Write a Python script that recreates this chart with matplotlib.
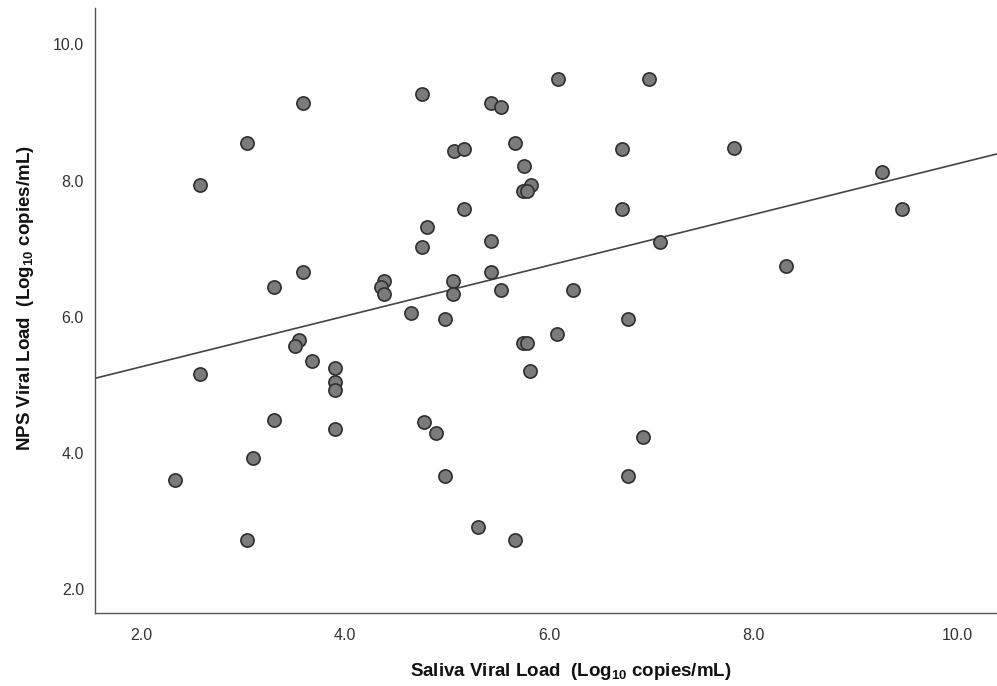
import matplotlib
matplotlib.use("Agg")
import matplotlib.pyplot as plt
import numpy as np

# valores (log10 copias/mL)
saliva = [
    2.33, 2.58, 2.58, 3.04, 3.04, 3.10, 3.30, 3.30, 3.59, 3.59,
    3.55, 3.51, 3.68, 3.90, 3.90, 3.90, 3.90, 4.38, 4.35, 4.38,
    4.65, 4.75, 4.75, 4.80, 4.77, 4.89, 4.98, 4.98, 5.06, 5.06,
    5.07, 5.17, 5.17, 5.30, 5.43, 5.53, 5.43, 5.43, 5.53, 5.67,
    5.67, 5.75, 5.82, 5.74, 5.78, 5.74, 5.78, 5.81, 6.08, 6.09,
    6.23, 6.71, 6.71, 6.77, 6.77, 6.92, 6.98, 7.09, 7.81, 8.32,
    9.26, 9.46,
]
nps = [
    3.60, 7.94, 5.16, 8.55, 2.72, 3.93, 6.44, 4.48, 9.14, 6.65,
    5.66, 5.57, 5.35, 5.25, 5.04, 4.92, 4.35, 6.52, 6.43, 6.33,
    6.06, 9.27, 7.03, 7.32, 4.46, 4.29, 5.97, 3.66, 6.52, 6.33,
    8.43, 8.46, 7.58, 2.91, 9.14, 9.08, 7.11, 6.65, 6.39, 8.55,
    2.72, 8.21, 7.94, 7.84, 7.84, 5.62, 5.62, 5.21, 5.75, 9.49,
    6.39, 8.46, 7.58, 5.96, 3.66, 4.24, 9.49, 7.10, 8.48, 6.74,
    8.12, 7.58,
]

plt.rcParams["font.family"] = ["Liberation Sans", "DejaVu Sans"]
plt.rcParams["mathtext.fontset"] = "custom"
plt.rcParams["mathtext.bf"] = "Liberation Sans:bold"
plt.rcParams["mathtext.rm"] = "Liberation Sans"
plt.rcParams["mathtext.default"] = "bf"

fig = plt.figure(figsize=(9.97, 6.86), dpi=100)
ax = fig.add_axes([0.0953, 0.1064, 0.9047, 0.8816])

x = np.array(saliva)
y = np.array(nps)
ax.scatter(x, y, s=90, facecolor="#7b7b7b", edgecolor="#2e2e2e", linewidth=1.2, zorder=3)

# reta de regressao ajustada aos pontos
a, b = np.polyfit(x, y, 1)
xx = np.array([1.0, 11.0])
ax.plot(xx, a * xx + b, color="#444444", linewidth=1.2, zorder=2)

ax.set_xlim(1.55, 10.39)
ax.set_ylim(1.65, 10.53)
ax.set_xticks([2, 4, 6, 8, 10])
ax.set_yticks([2, 4, 6, 8, 10])
ax.set_xticklabels(["2.0", "4.0", "6.0", "8.0", "10.0"])
ax.set_yticklabels(["2.0", "4.0", "6.0", "8.0", "10.0"])
ax.tick_params(length=0, labelsize=11.5, labelcolor="#333333")
ax.tick_params(axis="x", pad=11)
ax.tick_params(axis="y", pad=8)
for lbl in ax.get_yticklabels():
    lbl.set_y(lbl.get_position()[1])

for lado in ["top", "right"]:
    ax.spines[lado].set_visible(False)
for lado in ["left", "bottom"]:
    ax.spines[lado].set_color("#555555")
    ax.spines[lado].set_linewidth(1.0)

ax.set_xlabel(r"Saliva Viral Load  (Log$_{10}$ copies/mL)", fontsize=13.5, fontweight="bold", color="#111111")
ax.set_ylabel(r"NPS Viral Load  (Log$_{10}$ copies/mL)", fontsize=13.5, fontweight="bold", color="#111111")
ax.xaxis.set_label_coords(0.527, -0.079)
ax.yaxis.set_label_coords(-0.065, 0.52)

fig.savefig("out.png", dpi=100)
